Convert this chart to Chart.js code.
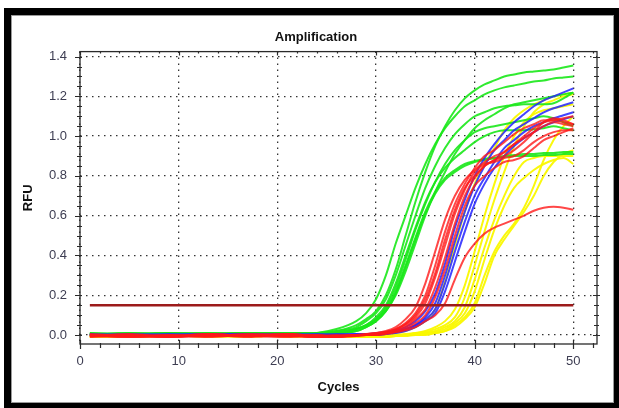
<!DOCTYPE html>
<html>
<head>
<meta charset="utf-8">
<script src="https://cdn.jsdelivr.net/npm/chart.js@4/dist/chart.umd.min.js"></script>
<style>
html, body { margin: 0; padding: 0; background: #fff; }
#frame {
    position: absolute; left: 4px; top: 8px; width: 615px; height: 400px;
    box-sizing: border-box; border-style: solid; border-color: #000;
    border-width: 7px 5px 5px 7px; box-shadow: inset 0 0 0 1px #9a9a9a;
}
#wrap { position: absolute; left: 0; top: 0; width: 619px; height: 408px; }
</style>
</head>
<body>
<div id="frame"></div>
<div id="wrap"><canvas id="chart" width="619" height="408"></canvas></div>
<script>
const sampleCycles = [1, 5, 9, 13, 17, 21, 24, 26, 28, 29, 30, 31, 32, 33, 34, 35, 36, 37, 38, 39, 40, 41, 42, 43, 44, 45, 46, 47, 48, 49, 50];

const greenCurves = [
    [0.005, 0.0, 0.01, 0.005, 0.01, 0.005, 0.01, 0.03, 0.07, 0.11, 0.18, 0.30, 0.46, 0.60, 0.74, 0.86, 0.96, 1.04, 1.10, 1.15, 1.18, 1.21, 1.23, 1.245, 1.255, 1.265, 1.275, 1.28, 1.29, 1.295, 1.30],
    [0.0, 0.005, 0.005, 0.01, 0.005, 0.01, 0.005, 0.02, 0.05, 0.08, 0.12, 0.20, 0.33, 0.50, 0.67, 0.82, 0.95, 1.05, 1.13, 1.19, 1.23, 1.26, 1.28, 1.30, 1.31, 1.32, 1.325, 1.33, 1.335, 1.345, 1.355],
    [0.005, 0.005, 0.0, 0.005, 0.01, 0.0, 0.01, 0.02, 0.04, 0.07, 0.11, 0.18, 0.30, 0.45, 0.60, 0.74, 0.85, 0.94, 1.01, 1.06, 1.10, 1.12, 1.14, 1.15, 1.155, 1.16, 1.16, 1.16, 1.165, 1.19, 1.22],
    [0.0, 0.005, 0.01, 0.0, 0.005, 0.01, 0.005, 0.015, 0.03, 0.05, 0.09, 0.15, 0.26, 0.40, 0.54, 0.67, 0.77, 0.84, 0.89, 0.93, 0.97, 1.00, 1.02, 1.03, 1.03, 1.03, 1.035, 1.04, 1.05, 1.04, 1.03],
    [0.01, 0.0, 0.005, 0.01, 0.0, 0.005, 0.01, 0.01, 0.03, 0.05, 0.08, 0.14, 0.24, 0.38, 0.53, 0.66, 0.77, 0.86, 0.93, 0.98, 1.02, 1.04, 1.05, 1.06, 1.07, 1.08, 1.09, 1.10, 1.09, 1.07, 1.05],
    [0.005, 0.01, 0.0, 0.005, 0.01, 0.005, 0.0, 0.01, 0.03, 0.05, 0.08, 0.13, 0.22, 0.35, 0.49, 0.62, 0.72, 0.79, 0.83, 0.86, 0.875, 0.885, 0.89, 0.895, 0.90, 0.90, 0.90, 0.905, 0.905, 0.91, 0.91],
    [0.0, 0.01, 0.005, 0.0, 0.01, 0.01, 0.005, 0.01, 0.02, 0.04, 0.07, 0.12, 0.20, 0.32, 0.46, 0.60, 0.72, 0.82, 0.91, 0.98, 1.04, 1.08, 1.11, 1.14, 1.16, 1.17, 1.18, 1.19, 1.20, 1.21, 1.22],
    [0.01, 0.005, 0.01, 0.005, 0.0, 0.01, 0.01, 0.01, 0.02, 0.04, 0.07, 0.12, 0.21, 0.34, 0.48, 0.61, 0.71, 0.78, 0.82, 0.85, 0.87, 0.88, 0.89, 0.90, 0.905, 0.91, 0.91, 0.915, 0.915, 0.92, 0.92]
];

const redCurves = [
    [-0.005, -0.01, 0.0, -0.005, 0.005, 0.0, -0.01, -0.005, 0.0, 0.005, 0.01, 0.02, 0.04, 0.08, 0.14, 0.26, 0.42, 0.58, 0.70, 0.78, 0.83, 0.87, 0.90, 0.92, 0.96, 1.00, 1.04, 1.07, 1.08, 1.09, 1.10],
    [0.0, -0.005, -0.01, 0.0, -0.005, 0.005, -0.005, -0.01, 0.0, 0.0, 0.005, 0.015, 0.03, 0.06, 0.11, 0.20, 0.35, 0.52, 0.66, 0.76, 0.84, 0.90, 0.93, 0.97, 1.01, 1.04, 1.06, 1.08, 1.08, 1.07, 1.06],
    [-0.01, 0.0, -0.005, 0.005, -0.005, -0.01, 0.0, -0.005, 0.0, 0.0, 0.005, 0.01, 0.025, 0.05, 0.09, 0.16, 0.29, 0.45, 0.61, 0.73, 0.82, 0.86, 0.87, 0.89, 0.90, 0.93, 0.97, 1.00, 1.02, 1.03, 1.03],
    [-0.005, 0.005, -0.01, -0.005, 0.0, -0.005, -0.01, 0.0, -0.005, 0.0, 0.0, 0.01, 0.02, 0.04, 0.08, 0.13, 0.24, 0.39, 0.56, 0.70, 0.79, 0.85, 0.88, 0.90, 0.93, 0.97, 1.02, 1.07, 1.09, 1.08, 1.06],
    [0.0, -0.01, -0.005, 0.0, -0.01, 0.005, -0.005, -0.01, -0.005, 0.0, 0.0, 0.005, 0.015, 0.03, 0.06, 0.10, 0.19, 0.33, 0.50, 0.65, 0.75, 0.80, 0.84, 0.87, 0.88, 0.90, 0.94, 0.98, 1.00, 1.02, 1.04],
    [0.005, -0.005, 0.0, -0.01, 0.0, -0.005, 0.0, -0.01, 0.0, 0.005, 0.01, 0.015, 0.03, 0.055, 0.10, 0.18, 0.31, 0.48, 0.63, 0.74, 0.80, 0.85, 0.88, 0.92, 0.96, 0.99, 1.02, 1.05, 1.07, 1.06, 1.05],
    [-0.005, 0.0, -0.01, 0.005, -0.005, 0.0, -0.01, -0.005, 0.0, 0.0, 0.005, 0.01, 0.015, 0.025, 0.04, 0.07, 0.10, 0.16, 0.28, 0.39, 0.46, 0.51, 0.54, 0.56, 0.58, 0.60, 0.625, 0.64, 0.645, 0.64, 0.63]
];

const blueCurves = [
    [0.0, 0.0, 0.005, 0.0, 0.0, 0.005, 0.0, 0.0, 0.005, 0.005, 0.01, 0.015, 0.025, 0.04, 0.07, 0.12, 0.21, 0.36, 0.54, 0.68, 0.80, 0.89, 0.96, 1.02, 1.07, 1.11, 1.15, 1.18, 1.20, 1.22, 1.24],
    [0.0, 0.005, 0.0, 0.0, 0.005, 0.0, 0.0, 0.005, 0.0, 0.005, 0.005, 0.01, 0.02, 0.03, 0.05, 0.09, 0.16, 0.30, 0.47, 0.62, 0.75, 0.85, 0.93, 0.98, 1.03, 1.06, 1.09, 1.12, 1.14, 1.155, 1.17],
    [0.005, 0.0, 0.0, 0.005, 0.0, 0.0, 0.005, 0.0, 0.0, 0.0, 0.005, 0.01, 0.015, 0.03, 0.05, 0.08, 0.13, 0.26, 0.42, 0.57, 0.70, 0.79, 0.87, 0.94, 0.98, 1.02, 1.05, 1.07, 1.09, 1.105, 1.12],
    [0.0, 0.0, 0.0, 0.005, 0.005, 0.0, 0.0, 0.0, 0.005, 0.0, 0.0, 0.005, 0.01, 0.02, 0.04, 0.07, 0.11, 0.22, 0.37, 0.52, 0.66, 0.76, 0.84, 0.90, 0.95, 0.99, 1.02, 1.05, 1.07, 1.085, 1.10]
];

const yellowCurves = [
    [-0.01, -0.005, 0.0, 0.005, 0.0, -0.005, 0.0, -0.005, 0.0, 0.0, 0.0, 0.005, 0.01, 0.02, 0.04, 0.07, 0.13, 0.27, 0.45, 0.62, 0.76, 0.86, 0.94, 1.03, 1.09, 1.13, 1.16, 1.18, 1.20, 1.21, 1.22],
    [-0.01, -0.01, 0.0, 0.005, -0.005, 0.0, -0.005, -0.01, -0.01, -0.01, -0.01, -0.005, 0.0, 0.005, 0.01, 0.02, 0.04, 0.07, 0.13, 0.25, 0.42, 0.60, 0.76, 0.90, 1.00, 1.07, 1.11, 1.13, 1.14, 1.15, 1.16],
    [-0.005, -0.01, 0.005, 0.0, -0.005, 0.005, -0.01, -0.005, -0.01, -0.01, -0.005, -0.005, 0.0, 0.0, 0.01, 0.015, 0.03, 0.05, 0.09, 0.19, 0.35, 0.52, 0.68, 0.82, 0.95, 1.05, 1.12, 1.16, 1.18, 1.20, 1.21],
    [-0.01, 0.0, -0.005, 0.005, 0.0, -0.005, -0.01, -0.01, -0.005, -0.01, -0.01, -0.005, -0.005, 0.0, 0.005, 0.01, 0.02, 0.04, 0.07, 0.14, 0.28, 0.44, 0.58, 0.70, 0.80, 0.87, 0.89, 0.90, 0.90, 0.90, 0.90],
    [0.0, -0.01, -0.005, 0.0, 0.005, -0.01, -0.005, -0.01, -0.01, -0.005, -0.01, -0.01, -0.005, 0.0, 0.0, 0.01, 0.015, 0.03, 0.06, 0.11, 0.22, 0.38, 0.53, 0.65, 0.74, 0.79, 0.83, 0.86, 0.88, 0.89, 0.86],
    [-0.005, -0.005, 0.0, -0.01, 0.0, 0.005, -0.01, -0.005, -0.01, -0.01, -0.01, -0.005, -0.005, 0.0, 0.0, 0.005, 0.01, 0.02, 0.05, 0.09, 0.16, 0.30, 0.42, 0.50, 0.56, 0.64, 0.75, 0.88, 0.98, 1.05, 1.10],
    [-0.01, 0.0, 0.005, -0.005, -0.01, 0.0, -0.005, -0.01, -0.005, -0.01, -0.01, -0.01, -0.005, -0.005, 0.0, 0.0, 0.01, 0.02, 0.04, 0.08, 0.14, 0.26, 0.40, 0.48, 0.55, 0.62, 0.70, 0.80, 0.87, 0.91, 0.93]
];

const thresholdCycles = [1, 50];
const thresholdLevel = 0.15;

const xTickValues = [0, 10, 20, 30, 40, 50];
const yTickValues = [0.0, 0.2, 0.4, 0.6, 0.8, 1.0, 1.2, 1.4];

const X_MIN = 0, X_MAX = 52.4, Y_MIN = -0.045, Y_MAX = 1.425;
const tickColor = '#3d3d52';

Chart.defaults.font.family = '"Liberation Sans", Arial, sans-serif';

function toPoints(values) {
    return values.map((v, i) => ({ x: sampleCycles[i], y: v }));
}

function curveSet(curves, color) {
    return curves.map(values => ({
        data: toPoints(values),
        borderColor: color,
        borderWidth: 2,
        pointRadius: 0,
        cubicInterpolationMode: 'monotone',
        fill: false
    }));
}

const datasets = [
    {
        data: thresholdCycles.map(c => ({ x: c, y: thresholdLevel })),
        borderColor: '#9c1b1b',
        borderWidth: 2.5,
        pointRadius: 0
    },
    ...curveSet(redCurves, 'rgba(255, 25, 25, 0.8)'),
    ...curveSet(blueCurves, 'rgba(35, 35, 255, 0.85)'),
    ...curveSet(greenCurves, 'rgba(25, 232, 25, 0.9)'),
    ...curveSet(yellowCurves, 'rgba(250, 248, 0, 0.95)')
];

// plot frame with tick marks on all four sides
const plotFrame = {
    id: 'plotFrame',
    afterDatasetsDraw(chart) {
        const { ctx, chartArea: a, scales: { x, y } } = chart;
        ctx.save();
        ctx.strokeStyle = '#2a2a2a';
        ctx.lineWidth = 1.3;
        ctx.strokeRect(a.left, a.top, a.right - a.left, a.bottom - a.top);
        ctx.lineWidth = 1.2;
        ctx.beginPath();
        for (let k = 0; k * 2 <= X_MAX; k++) {
            const px = Math.round(x.getPixelForValue(k * 2)) + 0.5;
            const major = (k * 2) % 10 === 0;
            ctx.moveTo(px, a.bottom - (major ? 4 : 1));
            ctx.lineTo(px, a.bottom + (major ? 5 : 4));
            ctx.moveTo(px, a.top);
            ctx.lineTo(px, a.top + (major ? 4 : 2));
        }
        for (let k = 0; k * 0.05 <= Y_MAX; k++) {
            const py = Math.round(y.getPixelForValue(k * 0.05)) + 0.5;
            const major = k % 4 === 0;
            ctx.moveTo(a.left - (major ? 5 : 3), py);
            ctx.lineTo(a.left + 2, py);
            ctx.moveTo(a.right - (major ? 4 : 3), py);
            ctx.lineTo(a.right + (major ? 3 : 2), py);
        }
        ctx.stroke();
        ctx.restore();
    }
};

new Chart(document.getElementById('chart'), {
    type: 'line',
    data: { datasets },
    plugins: [plotFrame],
    options: {
        responsive: false,
        animation: false,
        devicePixelRatio: 1,
        layout: { padding: { left: 35, right: 22, top: 0, bottom: 0 } },
        plugins: {
            legend: { display: false },
            tooltip: { enabled: false },
            title: {
                display: true,
                text: 'Amplification',
                color: '#111',
                font: { size: 13, weight: 'bold' },
                padding: { top: 30, bottom: 6 }
            }
        },
        scales: {
            x: {
                type: 'linear',
                min: X_MIN,
                max: X_MAX,
                afterBuildTicks: s => { s.ticks = xTickValues.map(v => ({ value: v })); },
                afterFit: s => { s.height = 64; },
                ticks: { padding: 10, color: tickColor, font: { size: 13 }, callback: v => String(v) },
                grid: { drawTicks: false, color: 'rgba(0, 0, 0, 0.8)', lineWidth: 1.3 },
                border: { display: false, dash: [1.5, 4.5] },
                title: {
                    display: true, text: 'Cycles', color: '#111',
                    font: { size: 13, weight: 'bold' },
                    padding: { top: 0, bottom: 13 }
                }
            },
            y: {
                type: 'linear',
                min: Y_MIN,
                max: Y_MAX,
                afterBuildTicks: s => { s.ticks = yTickValues.map(v => ({ value: v })); },
                afterFit: s => { s.width = 45; },
                ticks: { padding: 13, color: tickColor, font: { size: 13 }, callback: v => v.toFixed(1) },
                grid: { drawTicks: false, color: 'rgba(0, 0, 0, 0.8)', lineWidth: 1.3 },
                border: { display: false, dash: [1.5, 4.5] },
                title: {
                    display: true, text: 'RFU', color: '#111',
                    font: { size: 13, weight: 'bold' },
                    padding: { top: -14, bottom: 0 }
                }
            }
        }
    }
});
</script>
</body>
</html>
